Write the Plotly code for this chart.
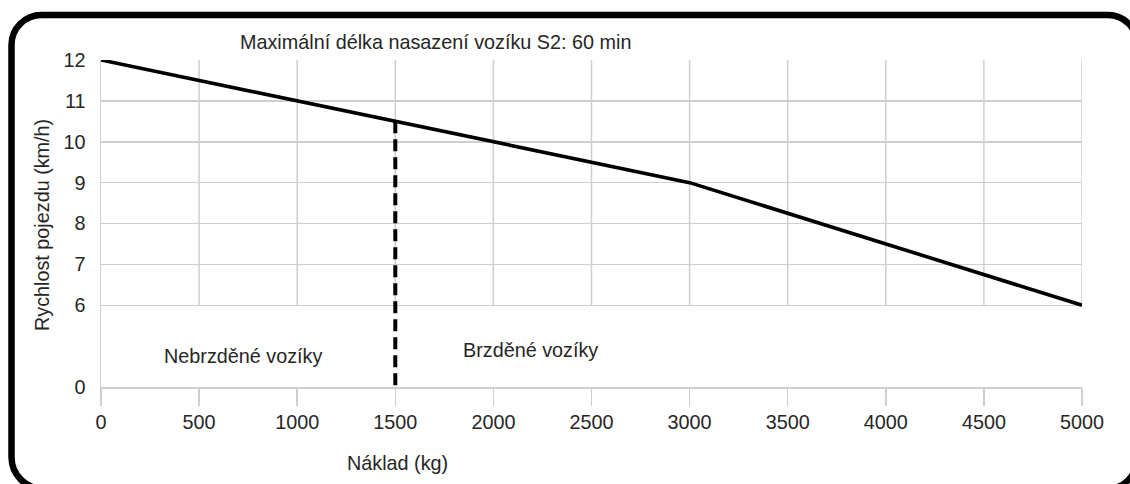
import plotly.graph_objects as go

# ---- data ----
load_kg = [0, 1000, 1500, 2000, 3000, 5000]
speed_kmh = [12, 11, 10.5, 10, 9, 6]
limit_x = [1500, 1500]
limit_y = [10.5, 4]          # axis value 4 carries the "0" label (broken axis)
x_ticks = [0, 500, 1000, 1500, 2000, 2500, 3000, 3500, 4000, 4500, 5000]
y_tickvals = [4, 6, 7, 8, 9, 10, 11, 12]
y_ticktext = ["0", "6", "7", "8", "9", "10", "11", "12"]
grid_y_low, grid_y_high = 6, 12

title_text = "Maximální délka nasazení vozíku S2: 60 min"
x_title = "Náklad (kg)"
y_title = "Rychlost pojezdu (km/h)"
label_left = "Nebrzděné vozíky"
label_right = "Brzděné vozíky"

# ---- layout geometry (pixels) ----
W, H = 1130, 484
L, R, T, B = 101, 1082, 60, 387


def px(xp):
    return (xp - L) / (R - L)


def py(yp):
    return (B - yp) / (B - T)


def P(xp, yp):
    return f"{px(xp)},{py(yp)}"


FONT = "Liberation Sans, Arial, sans-serif"
TXT = "#262626"
GRID = "#cfcfcf"
FS = 19.8

fig = go.Figure()
fig.add_trace(go.Scatter(x=load_kg, y=speed_kmh, mode="lines",
                         line=dict(color="black", width=3.6),
                         hoverinfo="skip", showlegend=False))
fig.add_trace(go.Scatter(x=limit_x, y=limit_y, mode="lines",
                         line=dict(color="black", width=4, dash="12px,6px"),
                         hoverinfo="skip", showlegend=False))

shapes = []
for xv in x_ticks[1:]:
    shapes.append(dict(type="line", xref="x", yref="y", x0=xv, x1=xv,
                       y0=grid_y_low, y1=grid_y_high,
                       line=dict(color=GRID, width=1.5), layer="below"))

# rounded frame (circle-like corners via cubic curves)
k = 0.5523
fl, ft, fr, fb = 11.5, 15, 1137, 489
r_tl, r_tr, r_br, r_bl = 30, 29, 30, 32
path = (
    f"M {P(fl + r_tl, ft)} L {P(fr - r_tr, ft)} "
    f"C {P(fr - r_tr + k * r_tr, ft)} {P(fr, ft + r_tr - k * r_tr)} {P(fr, ft + r_tr)} "
    f"L {P(fr, fb - r_br)} "
    f"C {P(fr, fb - r_br + k * r_br)} {P(fr - r_br + k * r_br, fb)} {P(fr - r_br, fb)} "
    f"L {P(fl + r_bl, fb)} "
    f"C {P(fl + r_bl - k * r_bl, fb)} {P(fl, fb - r_bl + k * r_bl)} {P(fl, fb - r_bl)} "
    f"L {P(fl, ft + r_tl)} "
    f"C {P(fl, ft + r_tl - k * r_tl)} {P(fl + r_tl - k * r_tl, ft)} {P(fl + r_tl, ft)} Z"
)
shapes.append(dict(type="path", xref="paper", yref="paper", path=path,
                   line=dict(color="black", width=6.5)))

ann_font = dict(family=FONT, size=FS, color=TXT)
annotations = [
    dict(text=title_text, x=px(435), y=py(42), xref="paper", yref="paper",
         showarrow=False, font=ann_font, xanchor="center", yanchor="middle"),
    dict(text=x_title, x=px(397), y=py(463), xref="paper", yref="paper",
         showarrow=False, font=ann_font, xanchor="center", yanchor="middle"),
    dict(text=y_title, x=px(42), y=py(225), xref="paper", yref="paper",
         showarrow=False, font=ann_font, textangle=-90,
         xanchor="center", yanchor="middle"),
    dict(text=label_left, x=px(243), y=py(356), xref="paper", yref="paper",
         showarrow=False, font=ann_font, xanchor="center", yanchor="middle"),
    dict(text=label_right, x=px(530), y=py(350), xref="paper", yref="paper",
         showarrow=False, font=ann_font, xanchor="center", yanchor="middle"),
]

fig.update_layout(
    width=W, height=H,
    margin=dict(l=L, r=W - R, t=T, b=H - B),
    paper_bgcolor="white", plot_bgcolor="white",
    shapes=shapes, annotations=annotations,
    xaxis=dict(range=[0, 5000], tickvals=x_ticks, showgrid=False,
               zeroline=False, showline=True, linecolor=GRID, linewidth=1.5,
               ticks="outside", ticklen=17, tickcolor=GRID, tickwidth=1.5,
               tickfont=dict(family=FONT, size=FS, color=TXT)),
    yaxis=dict(range=[4, 12], tickvals=y_tickvals, ticktext=y_ticktext,
               showgrid=True, gridcolor=GRID, gridwidth=1.5,
               zeroline=False, showline=True, linecolor=GRID, linewidth=1.5,
               ticks="", ticklabelstandoff=10,
               tickfont=dict(family=FONT, size=FS, color=TXT)),
)

fig.write_html("out.html",
               config={"displayModeBar": False, "staticPlot": True},
               post_script="document.body.style.margin='0';"
                           "document.body.style.overflow='hidden';")
